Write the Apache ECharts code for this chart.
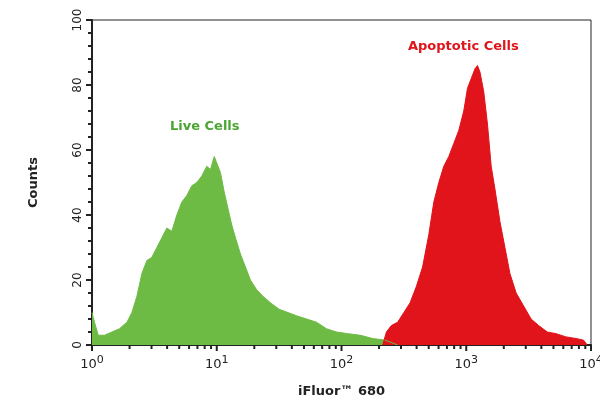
<!DOCTYPE html>
<html>
<head>
<meta charset="utf-8">
<script src="https://cdn.jsdelivr.net/npm/echarts@6/dist/echarts.min.js"></script>
<style>html,body{margin:0;padding:0;background:#fff}#c{width:600px;height:412px}</style>
</head>
<body>
<div id="c"></div>
<script>
// x values are log10 of iFluor 680 intensity
const liveX = [0, 0.02, 0.05, 0.1, 0.16, 0.22, 0.28, 0.32, 0.36, 0.4, 0.44, 0.48, 0.52, 0.56, 0.6, 0.64, 0.68, 0.72, 0.76, 0.8, 0.84, 0.88, 0.92, 0.95, 0.98, 1.0, 1.03, 1.06, 1.09, 1.12, 1.15, 1.19, 1.23, 1.27, 1.32, 1.37, 1.43, 1.5, 1.57, 1.64, 1.72, 1.8, 1.88, 1.96, 2.05, 2.15, 2.25, 2.35, 2.45]
const liveY = [10, 7, 3, 3, 4, 5, 7, 10, 15, 22, 26, 27, 30, 33, 36, 35, 40, 44, 46, 49, 50, 52, 55, 54, 58, 56, 53, 47, 42, 37, 33, 28, 24, 20, 17, 15, 13, 11, 10, 9, 8, 7, 5, 4, 3.5, 3, 2, 1.5, 0]
const apopX = [2.33, 2.36, 2.4, 2.45, 2.5, 2.55, 2.6, 2.65, 2.7, 2.74, 2.78, 2.82, 2.86, 2.9, 2.94, 2.98, 3.01, 3.04, 3.07, 3.09, 3.11, 3.14, 3.17, 3.2, 3.23, 3.27, 3.31, 3.35, 3.4, 3.46, 3.52, 3.58, 3.65, 3.72, 3.8, 3.88, 3.94, 3.97]
const apopY = [0, 4, 6, 7, 10, 13, 18, 24, 34, 44, 50, 55, 58, 62, 66, 72, 79, 82, 85, 86, 84, 78, 68, 55, 48, 38, 30, 22, 16, 12, 8, 6, 4, 3.5, 2.5, 2, 1.5, 0]
const xTicks = [0, 1, 2, 3, 4]

const minorTicks = []
for (let d = 0; d < 4; d++) {
  for (let k = 2; k <= 9; k++) minorTicks.push(d + Math.log(k) / Math.LN10)
}

const chart = echarts.init(document.getElementById('c'))
const font = 'DejaVu Sans'
chart.setOption({
  animation: false,
  grid: { left: 92, right: 9, top: 20, bottom: 67, outerBoundsMode: 'none', containLabel: false, show: true, borderColor: '#222', borderWidth: 1 },
  xAxis: {
    type: 'value', min: 0, max: 4, interval: 1,
    axisLine: { show: true, onZero: false, lineStyle: { color: '#222', width: 2 } },
    axisTick: { show: false },
    splitLine: { show: false },
    axisLabel: {
      margin: 10, color: '#222', fontFamily: font,
      formatter: v => '{b|10}{s|' + v + '}',
      rich: { b: { fontSize: 13, fontFamily: font, color: '#222' }, s: { fontSize: 11, fontFamily: font, color: '#222', verticalAlign: 'top', padding: [0, 0, 8, 0] } }
    },
    name: 'iFluor\u2122 680', nameLocation: 'middle', nameGap: 40,
    nameTextStyle: { fontFamily: font, fontWeight: 'bold', fontSize: 13, color: '#222' }
  },
  yAxis: {
    type: 'value', min: 0, max: 100, interval: 20,
    axisLine: { show: true, onZero: false, lineStyle: { color: '#222', width: 2 } },
    axisTick: { show: true, length: 6, lineStyle: { color: '#222', width: 2 } },
    minorTick: { show: true, splitNumber: 5, length: 4, lineStyle: { color: '#222', width: 2 } },
    splitLine: { show: false },
    axisLabel: { rotate: 90, margin: 8, color: '#222', fontFamily: font, fontSize: 12 },
    name: 'Counts', nameLocation: 'middle', nameGap: 52, nameRotate: 90,
    nameTextStyle: { fontFamily: font, fontWeight: 'bold', fontSize: 13, color: '#222' }
  },
  series: [
    { type: 'line', data: liveX.map((x, i) => [x, liveY[i]]), symbol: 'none',
      lineStyle: { color: '#6dbb45', width: 1 }, areaStyle: { color: '#6dbb45', opacity: 1 } },
    { type: 'line', data: apopX.map((x, i) => [x, apopY[i]]), symbol: 'none',
      lineStyle: { color: '#e0141a', width: 1 }, areaStyle: { color: '#e0141a', opacity: 1 } }
  ]
})

// x ticks placed through the chart's own scale
const tickEls = []
xTicks.concat(minorTicks).forEach((v, i) => {
  const p = chart.convertToPixel({ gridIndex: 0 }, [v, 0])
  const len = i < xTicks.length ? 6 : 4
  tickEls.push({ type: 'line', z: 100, shape: { x1: p[0], y1: p[1], x2: p[0], y2: p[1] + len }, style: { stroke: '#222', lineWidth: 2 } })
})
chart.setOption({
  graphic: tickEls.concat([
    { type: 'text', left: 170, top: 120, style: { text: 'Live Cells', fill: '#4aa533', font: 'bold 13px "DejaVu Sans"' } },
    { type: 'text', left: 408, top: 40, style: { text: 'Apoptotic Cells', fill: '#e0141a', font: 'bold 13px "DejaVu Sans"' } }
  ])
})
</script>
</body>
</html>
